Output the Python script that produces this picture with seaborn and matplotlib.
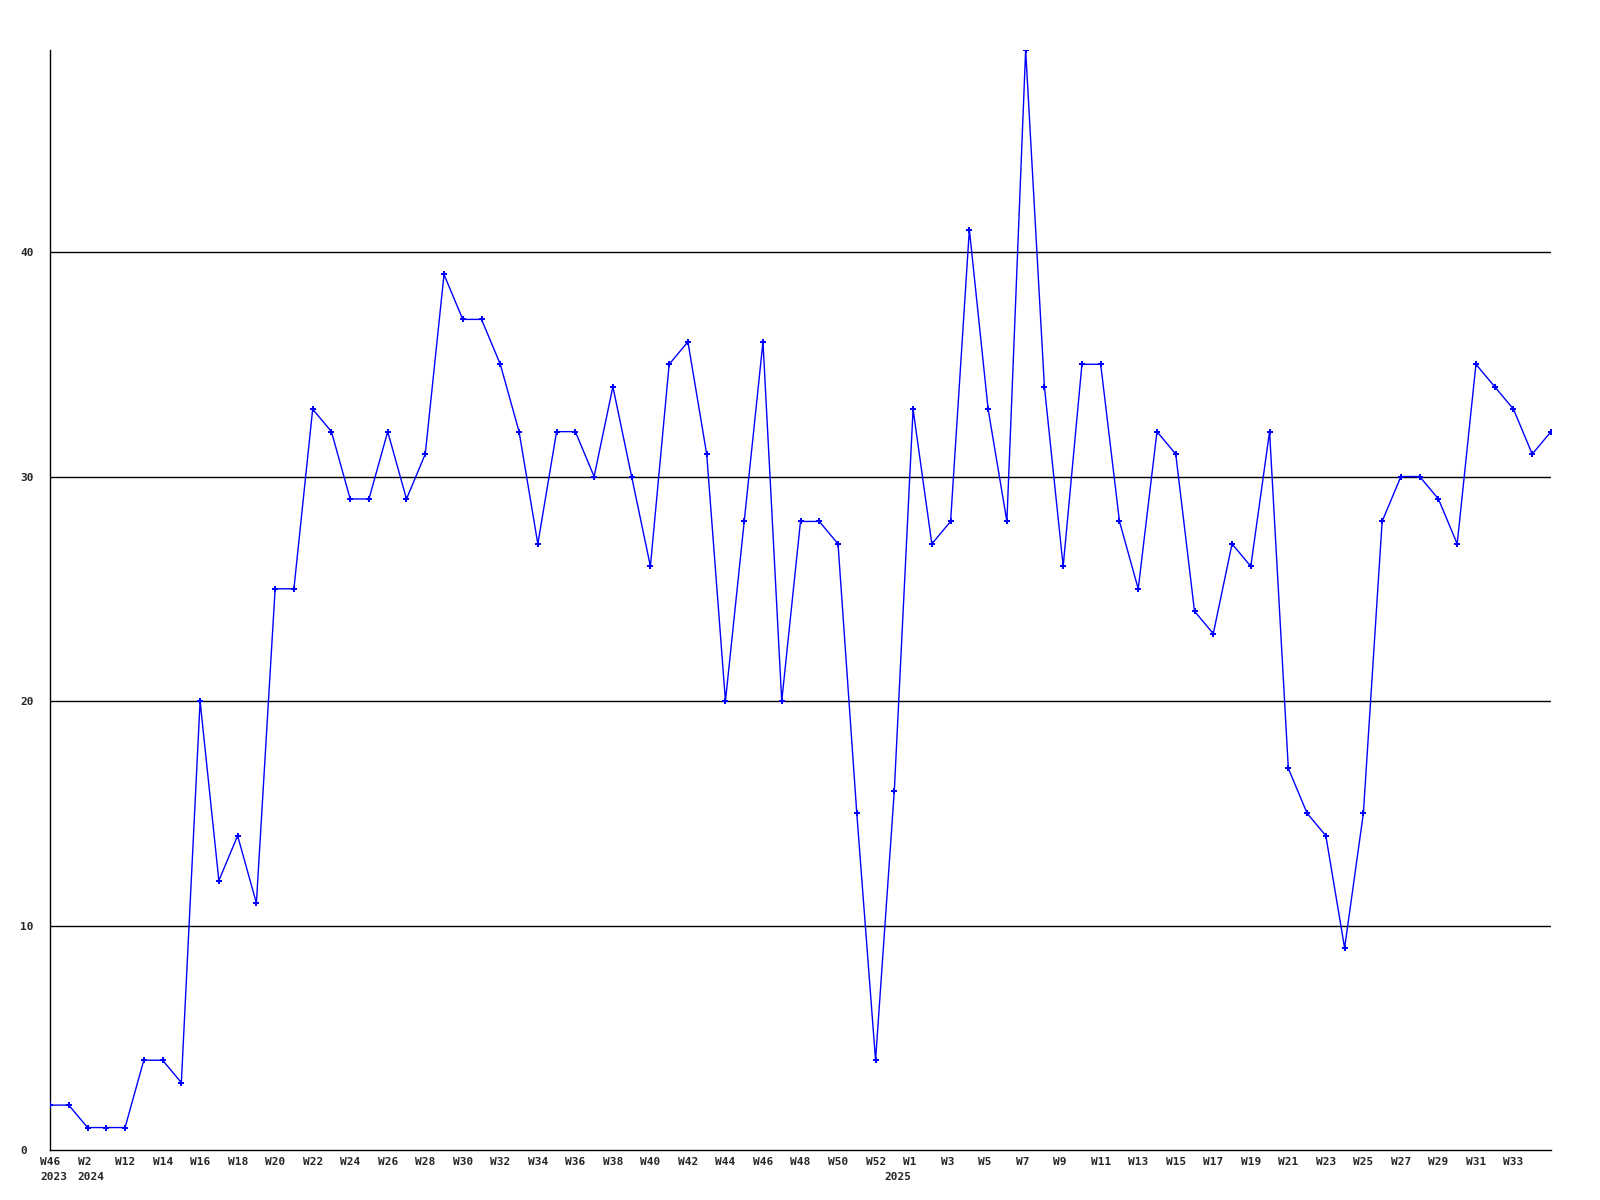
import matplotlib
matplotlib.use("Agg")
import matplotlib.pyplot as plt
import seaborn as sns
import pandas as pd

# Weekly counts (one per plotted point, in order)
values = [2, 2, 1, 1, 1, 4, 4, 3, 20, 12, 14, 11, 25, 25, 33, 32, 29, 29, 32, 29,
          31, 39, 37, 37, 35, 32, 27, 32, 32, 30, 34, 30, 26, 35, 36, 31, 20, 28, 36, 20,
          28, 28, 27, 15, 4, 16, 33, 27, 28, 41, 33, 28, 49, 34, 26, 35, 35, 28, 25, 32,
          31, 24, 23, 27, 26, 32, 17, 15, 14, 9, 15, 28, 30, 30, 29, 27, 35, 34, 33, 31,
          32]

# Week labels shown under every second point
week_labels = ["W46", "W2", "W12", "W14", "W16", "W18", "W20", "W22", "W24", "W26",
               "W28", "W30", "W32", "W34", "W36", "W38", "W40", "W42", "W44", "W46",
               "W48", "W50", "W52", "W1", "W3", "W5", "W7", "W9", "W11", "W13",
               "W15", "W17", "W19", "W21", "W23", "W25", "W27", "W29", "W31", "W33"]

# Year labels and the point index where each year starts
year_labels = ["2023", "2024", "2025"]
year_points = [0, 2, 45]

y_ticks = [0, 10, 20, 30, 40]

df = pd.DataFrame({"idx": list(range(len(values))), "value": values})

sns.set_style("white")
plt.rcParams["font.family"] = ["DejaVu Sans Mono"]

fig = plt.figure(figsize=(16, 12), dpi=100)
ax = fig.add_axes([50 / 1600, 50 / 1200, (1551 - 50) / 1600, (1150 - 50) / 1200])

for yv in y_ticks[1:]:
    ax.axhline(yv, color="black", lw=1.0, zorder=1)

sns.lineplot(data=df, x="idx", y="value", ax=ax, color="#0000ff", lw=1.0,
             marker="P", markersize=5, markeredgewidth=0, zorder=3)

ax.set_xlim(0, len(values) - 1)
ax.set_ylim(0, max(values))

# x labels: left-aligned, starting 10 px left of their point
ax.set_xticks([])
for i, lab in enumerate(week_labels):
    ax.annotate(lab, xy=(2 * i, 0), xycoords=("data", "axes fraction"),
                xytext=(-10, -7), textcoords="offset pixels",
                ha="left", va="top", fontsize=8, fontweight="bold",
                annotation_clip=False)
for lab, p in zip(year_labels, year_points):
    ax.annotate(lab, xy=(p, 0), xycoords=("data", "axes fraction"),
                xytext=(-10, -22), textcoords="offset pixels",
                ha="left", va="top", fontsize=8, fontweight="bold",
                annotation_clip=False)

ax.set_yticks(y_ticks)
ax.set_yticklabels([str(v) for v in y_ticks], fontsize=8, fontweight="bold", ha="left")
ax.tick_params(axis="y", length=0, pad=30 * 0.72)

ax.set_xlabel("")
ax.set_ylabel("")
for side in ["top", "right"]:
    ax.spines[side].set_visible(False)
for side in ["left", "bottom"]:
    ax.spines[side].set_color("black")
    ax.spines[side].set_linewidth(1.0)

fig.savefig("out.png", dpi=100, facecolor="white")
